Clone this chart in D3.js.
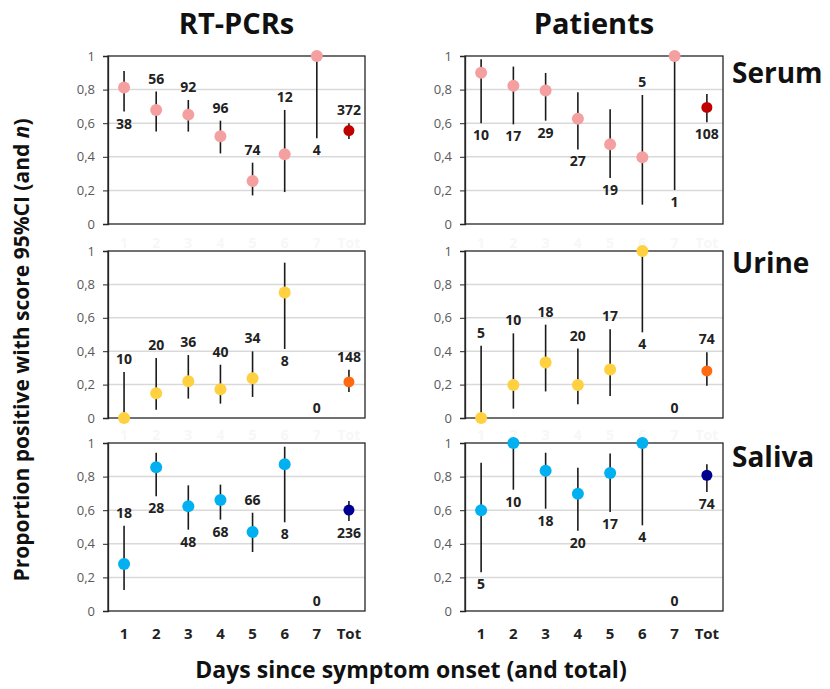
<!DOCTYPE html>
<html lang="en">
<head>
<meta charset="utf-8">
<title>Proportion positive by day since symptom onset</title>
<script src="https://d3js.org/d3.v7.min.js"></script>
<style>
  body { margin: 0; background: #fff; }
  svg text { font-family: "Open Sans", Lato, sans-serif; }
</style>
</head>
<body>
<script>
// categories and ticks
var days = ["1", "2", "3", "4", "5", "6", "7", "Tot"];
var yTicks = [0, 0.2, 0.4, 0.6, 0.8, 1];
var yTickLabels = ["0", "0,2", "0,4", "0,6", "0,8", "1"];

// RT-PCRs, serum
var pcrSerumP  = [0.813, 0.679, 0.651, 0.522, 0.256, 0.415, 1.0, 0.556];
var pcrSerumLo = [0.669, 0.55, 0.55, 0.42, 0.17, 0.19, 0.51, 0.506];
var pcrSerumHi = [0.911, 0.788, 0.738, 0.615, 0.365, 0.679, 1.0, 0.599];
var pcrSerumN  = [38, 56, 92, 96, 74, 12, 4, 372];
var pcrSerumAbove = [0, 1, 1, 1, 1, 1, 0, 1];

// patients, serum
var patSerumP  = [0.90, 0.823, 0.794, 0.627, 0.474, 0.397, 1.0, 0.694];
var patSerumLo = [0.599, 0.593, 0.615, 0.444, 0.274, 0.115, 0.202, 0.605];
var patSerumHi = [0.98, 0.937, 0.899, 0.784, 0.683, 0.768, 1.0, 0.774];
var patSerumN  = [10, 17, 29, 27, 19, 5, 1, 108];
var patSerumAbove = [0, 0, 0, 0, 0, 1, 0, 0];

// RT-PCRs, urine
var pcrUrineP  = [0, 0.148, 0.22, 0.172, 0.238, 0.752, null, 0.216];
var pcrUrineLo = [0, 0.05, 0.116, 0.086, 0.126, 0.413, null, 0.156];
var pcrUrineHi = [0.275, 0.359, 0.377, 0.319, 0.399, 0.93, null, 0.289];
var pcrUrineN  = [10, 20, 36, 40, 34, 8, 0, 148];
var pcrUrineAbove = [1, 1, 1, 1, 1, 0, 1, 1];

// patients, urine
var patUrineP  = [0, 0.197, 0.332, 0.197, 0.29, 1.0, null, 0.282];
var patUrineLo = [0, 0.056, 0.159, 0.082, 0.131, 0.513, null, 0.193];
var patUrineHi = [0.433, 0.507, 0.559, 0.416, 0.531, 1.0, null, 0.394];
var patUrineN  = [5, 10, 18, 20, 17, 4, 0, 74];
var patUrineAbove = [1, 1, 1, 1, 1, 0, 1, 1];

// RT-PCRs, saliva
var pcrSalivaP  = [0.28, 0.855, 0.623, 0.661, 0.47, 0.873, null, 0.601];
var pcrSalivaLo = [0.125, 0.683, 0.484, 0.544, 0.351, 0.528, null, 0.536];
var pcrSalivaHi = [0.508, 0.942, 0.748, 0.752, 0.585, 0.978, null, 0.655];
var pcrSalivaN  = [18, 28, 48, 68, 66, 8, 0, 236];
var pcrSalivaAbove = [1, 0, 0, 0, 1, 0, 1, 0];

// patients, saliva
var patSalivaP  = [0.599, 1.0, 0.835, 0.698, 0.821, 1.0, null, 0.808];
var patSalivaLo = [0.23, 0.722, 0.609, 0.478, 0.589, 0.51, null, 0.708];
var patSalivaHi = [0.883, 1.0, 0.942, 0.853, 0.937, 1.0, null, 0.873];
var patSalivaN  = [5, 10, 18, 20, 17, 4, 0, 74];
var patSalivaAbove = [0, 0, 0, 0, 0, 0, 1, 0];

var w = 830, h = 689;
var font = "'Open Sans', Lato, sans-serif";

var svg = d3.select("body").append("svg")
  .attr("width", w)
  .attr("height", h);

// layout of the 3x2 grid
var cols = [
  { x0: 108, x1: 365, title: "RT-PCRs" },
  { x0: 465, x1: 723, title: "Patients" }
];
var rows = [
  { y0: 224, y1: 56,  name: "Serum",  nameY: 83,  dot: "#F4A0A0", tot: "#C00000" },
  { y0: 418, y1: 251, name: "Urine",  nameY: 273, dot: "#FFD040", tot: "#FF6A10" },
  { y0: 611, y1: 443, name: "Saliva", nameY: 467, dot: "#00B0F0", tot: "#000090" }
];

var panels = [
  [ { p: pcrSerumP, lo: pcrSerumLo, hi: pcrSerumHi, n: pcrSerumN, above: pcrSerumAbove },
    { p: patSerumP, lo: patSerumLo, hi: patSerumHi, n: patSerumN, above: patSerumAbove } ],
  [ { p: pcrUrineP, lo: pcrUrineLo, hi: pcrUrineHi, n: pcrUrineN, above: pcrUrineAbove },
    { p: patUrineP, lo: patUrineLo, hi: patUrineHi, n: patUrineN, above: patUrineAbove } ],
  [ { p: pcrSalivaP, lo: pcrSalivaLo, hi: pcrSalivaHi, n: pcrSalivaN, above: pcrSalivaAbove },
    { p: patSalivaP, lo: patSalivaLo, hi: patSalivaHi, n: patSalivaN, above: patSalivaAbove } ]
];

rows.forEach(function(row, ri) {
  cols.forEach(function(col, ci) {
    var s = panels[ri][ci];
    var x = d3.scaleBand().domain(days).range([col.x0, col.x1]).padding(0);
    var y = d3.scaleLinear().domain([0, 1]).range([row.y0, row.y1]);
    var cx = function(d) { return x(d.day) + x.bandwidth() / 2; };

    var data = days.map(function(day, i) {
      return { day: day, p: s.p[i], lo: s.lo[i], hi: s.hi[i], n: s.n[i], above: s.above[i], tot: day === "Tot" };
    });
    var g = svg.append("g");

    // faint leftover tick labels above the lower panels
    if (ri > 0) {
      g.selectAll(".ghost").data(days).enter().append("text")
        .attr("x", function(d) { return x(d) + x.bandwidth() / 2; })
        .attr("y", row.y1 - 3)
        .attr("text-anchor", "middle")
        .attr("font-size", 14).attr("font-weight", "bold")
        .attr("fill", "#f7f7f7")
        .text(function(d) { return d; });
    }

    // gridlines
    g.selectAll(".grid").data(yTicks.slice(1, 5)).enter().append("line")
      .attr("x1", col.x0).attr("x2", col.x1)
      .attr("y1", function(d) { return y(d); }).attr("y2", function(d) { return y(d); })
      .attr("stroke", "#d9d9d9").attr("stroke-width", 1.5);

    // frame
    g.append("rect")
      .attr("x", col.x0).attr("y", row.y1)
      .attr("width", col.x1 - col.x0).attr("height", row.y0 - row.y1)
      .attr("fill", "none").attr("stroke", "#262626").attr("stroke-width", 1.3);

    // y axis
    var yAxis = d3.axisLeft(y).tickValues(yTicks).tickSize(5).tickPadding(8)
      .tickFormat(function(d, i) { return yTickLabels[i]; });
    var ya = g.append("g").attr("transform", "translate(" + col.x0 + ",0)").call(yAxis);
    ya.select(".domain").attr("stroke", "#262626").attr("stroke-width", 1.3);
    ya.selectAll(".tick line").attr("stroke", "#262626");
    ya.selectAll("text").attr("font-size", 13).attr("fill", "#595959")
      .style("font-family", font);

    // x axis labels on the bottom row only
    if (ri === rows.length - 1) {
      var xAxis = d3.axisBottom(x).tickSize(0).tickPadding(17);
      var xa = g.append("g").attr("transform", "translate(0," + row.y0 + ")").call(xAxis);
      xa.select(".domain").remove();
      xa.selectAll("text").attr("font-size", 15).attr("font-weight", "bold").attr("fill", "#222")
        .style("font-family", font);
    }

    var have = data.filter(function(d) { return d.p !== null; });

    // confidence intervals
    g.selectAll(".ci").data(have).enter().append("line")
      .attr("x1", cx).attr("x2", cx)
      .attr("y1", function(d) { return y(d.lo); })
      .attr("y2", function(d) { return y(d.hi); })
      .attr("stroke", "#1a1a1a").attr("stroke-width", 1.6);

    // points
    g.selectAll(".pt").data(have).enter().append("circle")
      .attr("cx", cx)
      .attr("cy", function(d) { return y(d.p); })
      .attr("r", function(d) { return d.tot ? 5.5 : 6; })
      .attr("fill", function(d) { return d.tot ? row.tot : row.dot; });

    // n labels
    g.selectAll(".nl").data(data).enter().append("text")
      .attr("x", cx)
      .attr("y", function(d) {
        if (d.p === null) return y(0) - 5;
        return d.above ? y(d.hi) - 8 : y(d.lo) + 17;
      })
      .attr("text-anchor", "middle")
      .attr("font-size", 14).attr("font-weight", "bold").attr("fill", "#222")
      .text(function(d) { return d.n; });
  });

  svg.append("text")
    .attr("x", 732).attr("y", row.nameY)
    .attr("font-size", 28).attr("font-weight", "bold").attr("fill", "#111")
    .text(row.name);
});

// column titles
cols.forEach(function(col) {
  svg.append("text")
    .attr("x", (col.x0 + col.x1) / 2).attr("y", 34)
    .attr("text-anchor", "middle")
    .attr("font-size", 29).attr("font-weight", "bold").attr("fill", "#111")
    .text(col.title);
});

// axis titles
var yt = svg.append("text")
  .attr("transform", "translate(29,350) rotate(-90)")
  .attr("text-anchor", "middle")
  .attr("font-size", 21).attr("font-weight", "bold").attr("fill", "#111");
yt.append("tspan").text("Proportion positive with score 95%CI (and ");
yt.append("tspan").attr("font-style", "italic").text("n");
yt.append("tspan").text(")");

svg.append("text")
  .attr("x", 411).attr("y", 678)
  .attr("text-anchor", "middle")
  .attr("font-size", 23).attr("font-weight", "bold").attr("fill", "#111")
  .text("Days since symptom onset (and total)");
</script>
</body>
</html>
